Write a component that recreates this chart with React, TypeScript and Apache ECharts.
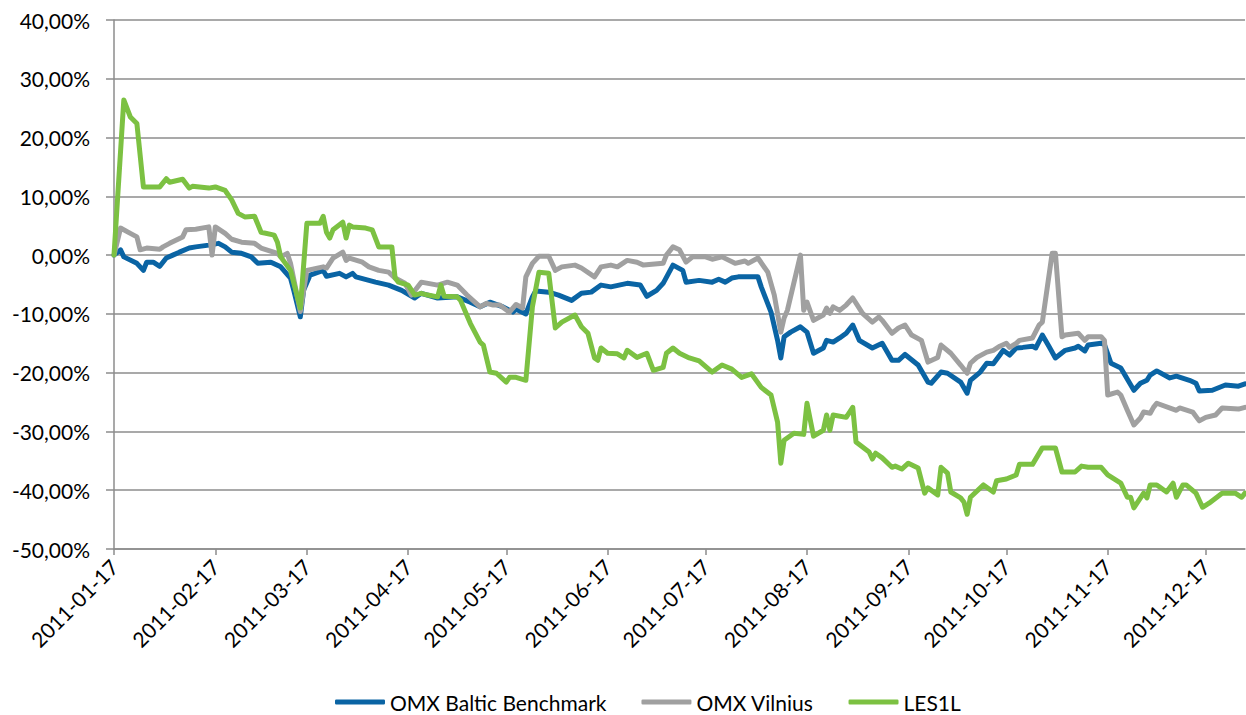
import React, { useEffect, useRef } from "react";
import * as echarts from "echarts";

// x values are days since the start date, y values are % change
const START = { y: 2011, m: 0, d: 17 };
const END_DAY = 346;
const tickDates = [
  "2011-01-17", "2011-02-17", "2011-03-17", "2011-04-17", "2011-05-17", "2011-06-17",
  "2011-07-17", "2011-08-17", "2011-09-17", "2011-10-17", "2011-11-17", "2011-12-17",
];
const yTicks = { min: -50, max: 40, step: 10 };
const seriesNames = ["OMX Baltic Benchmark", "OMX Vilnius", "LES1L"];
const seriesColors = ["#0a64a4", "#a0a0a0", "#7cc142"];

const omxBalticBenchmark: [number, number][] = [
  [0, 0], [2, 0.9], [3, -0.3], [7, -1.4], [9, -2.6], [10, -1.2], [12, -1.2], [14, -1.9], [16, -0.5], [18, 0],
  [20, 0.5], [23, 1.2], [25, 1.4], [29, 1.7], [32, 2.0], [34, 1.4], [36, 0.5], [39, 0.3], [42, -0.3], [44, -1.4],
  [48, -1.2], [51, -2.0], [54, -3.9], [55, -6.0], [57, -10.5], [58, -6.0], [60, -3.4], [64, -2.6], [65, -3.6], [69, -3.1],
  [71, -3.7], [73, -3.1], [74, -3.7], [80, -4.6], [84, -5.1], [88, -6.0], [92, -7.3], [94, -6.5], [99, -7.3], [105, -7.1],
  [109, -8.0], [112, -8.8], [115, -8.0], [119, -8.8], [122, -9.7], [123, -9.2], [126, -10.0], [128, -7.1], [129, -6.1], [133, -6.3],
  [136, -6.8], [140, -7.7], [143, -6.5], [146, -6.3], [149, -5.1], [152, -5.4], [157, -4.8], [161, -5.1], [163, -7.0], [166, -6.0],
  [168, -4.8], [171, -1.7], [174, -2.6], [175, -4.6], [179, -4.3], [183, -4.6], [185, -4.1], [187, -4.6], [189, -3.9], [191, -3.7],
  [197, -3.7], [198, -5.4], [201, -9.7], [203, -14.5], [204, -17.5], [205, -13.9], [207, -13.1], [210, -12.2], [212, -13.1], [214, -16.7],
  [217, -15.8], [218, -14.5], [220, -14.8], [222, -14.1], [224, -13.3], [226, -11.9], [228, -14.5], [232, -15.8], [235, -15.0], [238, -17.9],
  [240, -17.9], [242, -16.9], [246, -18.7], [249, -21.6], [250, -21.8], [253, -19.9], [255, -20.1], [259, -21.6], [261, -23.5], [262, -21.3],
  [265, -19.9], [267, -18.4], [269, -18.5], [271, -17.0], [272, -16.2], [274, -17.0], [276, -15.8], [278, -15.7], [281, -15.5], [282, -15.8],
  [284, -13.6], [286, -15.5], [288, -17.5], [291, -16.2], [294, -15.8], [295, -15.5], [297, -16.3], [298, -15.3], [302, -15.0], [303, -15.2],
  [305, -18.4], [308, -19.2], [312, -23.0], [314, -21.8], [316, -21.3], [317, -20.4], [319, -19.7], [323, -20.9], [325, -20.6], [329, -21.3],
  [331, -21.8], [332, -23.1], [336, -23.0], [340, -22.1], [344, -22.3], [346, -21.9],
];

const omxVilnius: [number, number][] = [
  [0, 0], [2, 4.6], [5, 3.7], [7, 3.1], [8, 0.9], [10, 1.2], [14, 1.0], [15, 1.4], [17, 2.0], [21, 3.1],
  [22, 4.3], [25, 4.4], [29, 4.8], [30, 0.0], [31, 4.8], [34, 3.7], [36, 2.7], [39, 2.2], [43, 2.0], [45, 1.2],
  [50, 0.3], [51, -0.3], [53, 0.3], [54, -1.4], [57, -9.6], [59, -2.6], [64, -2.0], [65, -2.2], [67, -0.5], [70, 0.5],
  [71, -0.9], [72, -0.5], [76, -1.2], [78, -2.0], [81, -2.6], [84, -2.9], [86, -3.9], [89, -4.8], [91, -6.8], [94, -4.6],
  [99, -5.1], [102, -4.6], [105, -5.1], [108, -6.8], [112, -8.8], [114, -8.2], [116, -8.5], [118, -8.5], [121, -9.7], [123, -8.4],
  [125, -9.0], [126, -3.7], [128, -1.4], [130, -0.2], [133, -0.2], [135, -2.6], [137, -2.0], [141, -1.7], [143, -2.2], [147, -3.7],
  [149, -2.0], [152, -1.7], [154, -2.0], [157, -0.9], [160, -1.2], [162, -1.7], [168, -1.4], [169, 0.0], [171, 1.4], [173, 0.9],
  [175, -1.2], [177, -0.3], [181, -0.3], [183, -0.7], [186, -0.3], [190, -1.4], [193, -1.0], [194, -1.4], [197, -0.5], [200, -2.9],
  [202, -6.8], [204, -13.1], [205, -10.7], [206, -9.4], [210, 0.0], [211, -9.4], [212, -8.0], [214, -11.1], [217, -10.2], [218, -9.0],
  [219, -9.9], [220, -8.8], [222, -9.4], [224, -8.5], [226, -7.3], [229, -9.9], [232, -11.4], [234, -10.5], [235, -11.1], [238, -13.3],
  [240, -12.4], [242, -11.9], [244, -13.6], [247, -14.5], [249, -18.2], [252, -17.4], [253, -15.3], [256, -16.7], [259, -18.7], [261, -20.1],
  [262, -18.4], [264, -17.4], [267, -16.5], [269, -16.2], [271, -15.5], [273, -15.0], [274, -15.7], [276, -15.0], [277, -14.5], [281, -14.1],
  [283, -11.9], [284, -11.4], [287, 0.3], [288, 0.3], [290, -13.9], [291, -13.6], [295, -13.3], [297, -14.5], [298, -13.9], [302, -13.9],
  [303, -14.5], [304, -23.8], [307, -23.3], [308, -23.8], [310, -26.4], [312, -28.9], [314, -27.7], [315, -26.7], [317, -26.9], [318, -25.9],
  [319, -25.2], [325, -26.4], [326, -26.0], [330, -26.7], [332, -28.2], [334, -27.6], [337, -27.2], [339, -26.0], [344, -26.2], [346, -25.9],
];

const les1l: [number, number][] = [
  [0, 0], [3, 26.4], [5, 23.5], [7, 22.4], [9, 11.6], [14, 11.6], [16, 13.0], [17, 12.4], [21, 12.9], [23, 11.4],
  [24, 11.7], [29, 11.4], [31, 11.6], [34, 11.0], [36, 9.4], [38, 7.1], [40, 6.5], [43, 6.6], [45, 3.9], [49, 3.4],
  [50, 2.2], [51, -0.3], [54, -2.6], [57, -9.0], [59, 5.4], [63, 5.4], [64, 6.6], [65, 3.9], [66, 2.9], [67, 4.3],
  [70, 5.6], [71, 2.9], [72, 5.1], [73, 4.8], [77, 4.6], [79, 4.3], [81, 1.4], [85, 1.4], [86, -3.9], [87, -4.6],
  [90, -5.1], [92, -6.8], [94, -6.5], [96, -6.8], [99, -7.1], [100, -5.1], [101, -7.0], [105, -7.1], [106, -7.7], [109, -11.6],
  [112, -14.8], [113, -15.3], [115, -19.9], [117, -20.1], [120, -21.6], [121, -20.8], [123, -20.8], [126, -21.3], [128, -8.8], [130, -2.9],
  [133, -3.1], [135, -12.4], [137, -11.4], [141, -10.2], [143, -12.2], [145, -13.3], [147, -17.5], [148, -17.9], [149, -15.8], [151, -16.7],
  [154, -16.8], [156, -17.5], [157, -16.2], [160, -17.4], [163, -16.7], [165, -19.6], [168, -19.1], [169, -16.7], [171, -15.8], [173, -16.7],
  [176, -17.5], [179, -18.0], [183, -19.9], [186, -18.7], [189, -19.4], [192, -20.8], [195, -20.2], [198, -22.5], [201, -23.8], [203, -28.4],
  [204, -35.4], [205, -31.5], [208, -30.3], [211, -30.5], [212, -25.2], [214, -30.8], [217, -29.8], [218, -27.2], [219, -29.8], [220, -27.2],
  [224, -27.6], [226, -25.9], [227, -31.8], [231, -33.5], [232, -34.7], [233, -33.7], [235, -34.5], [238, -36.1], [239, -35.9], [241, -36.4],
  [243, -35.4], [246, -36.2], [248, -40.5], [249, -39.6], [252, -40.8], [253, -36.1], [255, -37.1], [256, -40.3], [259, -41.3], [260, -42.0],
  [261, -44.1], [262, -41.2], [266, -39.1], [269, -40.3], [270, -38.4], [273, -38.1], [276, -37.4], [277, -35.6], [281, -35.6], [284, -32.8],
  [288, -32.8], [290, -36.9], [294, -36.9], [296, -35.9], [298, -36.1], [302, -36.1], [304, -37.4], [308, -38.8], [310, -41.2], [311, -41.2],
  [312, -43.0], [315, -40.5], [316, -41.3], [317, -39.1], [319, -39.1], [320, -39.5], [322, -40.3], [324, -38.8], [325, -41.2], [327, -39.1],
  [328, -39.1], [331, -40.5], [333, -42.9], [335, -42.2], [339, -40.5], [343, -40.5], [345, -41.2], [346, -40.5],
];

const seriesData = [omxBalticBenchmark, omxVilnius, les1l];

const startUTC = Date.UTC(START.y, START.m, START.d);
const dayOf = (s: string) => {
  const [y, m, d] = s.split("-").map(Number);
  return Math.round((Date.UTC(y, m - 1, d) - startUTC) / 86400000);
};
const dateOf = (day: number) => new Date(startUTC + Math.round(day) * 86400000).toISOString().slice(0, 10);
const tickDays = tickDates.map(dayOf);

const FONT = "Lato, 'Liberation Sans', sans-serif";
const GRID = "#8c8c8c";

export default function App() {
  const ref = useRef<HTMLDivElement>(null);
  useEffect(() => {
    document.body.style.margin = "0";
    if (!ref.current) return;
    const chart = echarts.init(ref.current, null, { renderer: "svg" });
    chart.setOption({
      animation: false,
      backgroundColor: "#ffffff",
      textStyle: { fontFamily: FONT },
      grid: { left: 114, right: 1, top: 20, bottom: 166, containLabel: false },
      legend: {
        left: 335,
        top: 691,
        padding: 0,
        icon: "roundRect",
        itemWidth: 50,
        itemHeight: 5,
        itemGap: 35,
        textStyle: { fontSize: 21, lineHeight: 22, color: "#000", fontFamily: FONT },
        data: seriesNames,
      },
      xAxis: {
        type: "value",
        min: 0,
        max: END_DAY,
        splitLine: { show: false },
        axisLine: { show: true, onZero: false, lineStyle: { color: GRID, width: 1.5 } },
        axisTick: { show: true, customValues: tickDays, length: 6, lineStyle: { color: GRID, width: 1.5 } },
        axisLabel: {
          customValues: tickDays,
          rotate: 45,
          margin: 14,
          fontSize: 21,
          color: "#000",
          fontFamily: FONT,
          formatter: (v: number) => dateOf(v),
        },
      },
      yAxis: {
        type: "value",
        min: yTicks.min,
        max: yTicks.max,
        interval: yTicks.step,
        axisLine: { show: true, lineStyle: { color: GRID, width: 1.5 } },
        axisTick: { show: true, length: 8, lineStyle: { color: GRID, width: 1.5 } },
        splitLine: { show: true, lineStyle: { color: GRID, width: 1.5 } },
        axisLabel: {
          margin: 24,
          fontSize: 21,
          color: "#000",
          fontFamily: FONT,
          formatter: (v: number) => v.toFixed(2).replace(".", ",") + "%",
        },
      },
      series: seriesNames.map((name, i) => ({
        name,
        type: "line",
        data: seriesData[i],
        showSymbol: false,
        symbol: "none",
        color: seriesColors[i],
        lineStyle: { width: 5, color: seriesColors[i], join: "round", cap: "round" },
      })),
    });
    return () => chart.dispose();
  }, []);
  return <div ref={ref} style={{ width: 1246, height: 715 }} />;
}
